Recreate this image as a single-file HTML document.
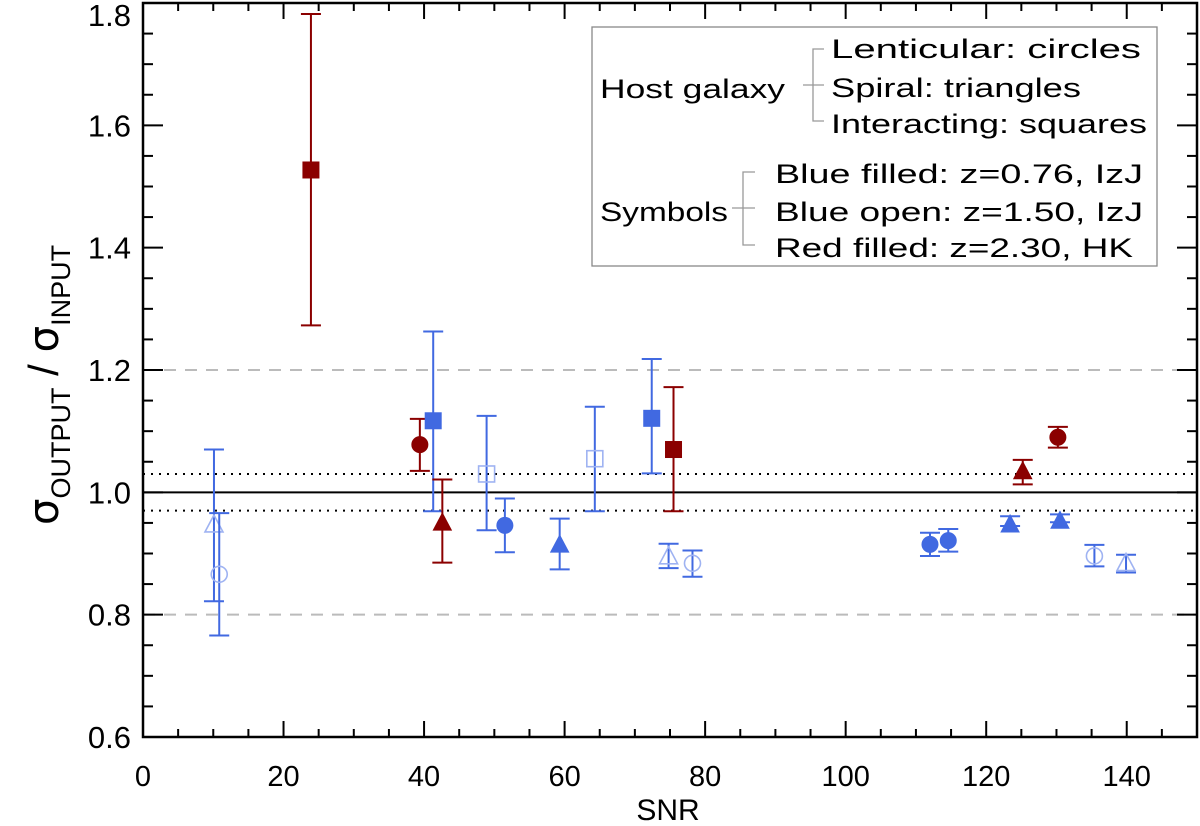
<!DOCTYPE html>
<html><head><meta charset="utf-8"><style>
html,body{margin:0;padding:0;background:#fff;}
svg{display:block;font-family:"Liberation Sans",sans-serif;}
</style></head><body>
<svg id="chart" width="1200" height="826" viewBox="0 0 1200 826">
<g id="grid"></g>
<g id="axes"></g>
<g id="marks"></g>
<g id="legend">
  <rect x="592" y="27" width="565" height="239" fill="#fff" stroke="#888" stroke-width="1.3"/>
  <g font-size="27" fill="#000">
    <text x="600" y="98" textLength="185" lengthAdjust="spacingAndGlyphs">Host galaxy</text>
    <text x="831" y="58" textLength="310" lengthAdjust="spacingAndGlyphs">Lenticular: circles</text>
    <text x="831" y="97" textLength="250" lengthAdjust="spacingAndGlyphs">Spiral: triangles</text>
    <text x="831" y="133" textLength="316" lengthAdjust="spacingAndGlyphs">Interacting: squares</text>
    <text x="600" y="221" textLength="128" lengthAdjust="spacingAndGlyphs">Symbols</text>
    <text x="775" y="183" textLength="368" lengthAdjust="spacingAndGlyphs">Blue filled: z=0.76, IzJ</text>
    <text x="775" y="221" textLength="368" lengthAdjust="spacingAndGlyphs">Blue open: z=1.50, IzJ</text>
    <text x="775" y="257" textLength="358" lengthAdjust="spacingAndGlyphs">Red filled: z=2.30, HK</text>
  </g>
  <g stroke="#999" stroke-width="1.3" fill="none">
    <path d="M824 49 H813 V121 H824 M803 85 H824"/>
    <path d="M755 172 H743 V245 H755 M732 208 H755"/>
  </g>
</g>
<text x="668" y="820" font-size="30" text-anchor="middle">SNR</text>
<g transform="translate(58,385) rotate(-90)">
  <text x="0" y="0" font-size="42" text-anchor="middle"><tspan font-family="DejaVu Sans, sans-serif">σ</tspan><tspan font-size="27" dy="12">OUTPUT</tspan><tspan dy="-12" font-size="42">  /  </tspan><tspan font-family="DejaVu Sans, sans-serif">σ</tspan><tspan font-size="27" dy="12">INPUT</tspan></text>
</g>
</svg>
<script>
const xTicks = [0,20,40,60,80,100,120,140];
const yTicks = [0.6,0.8,1.0,1.2,1.4,1.6,1.8];
const yTickLabels = ["0.6","0.8","1.0","1.2","1.4","1.6","1.8"];
// points: snr, ratio, error top, error bottom
const snr   = [10.1, 10.85, 23.9, 39.4, 41.3, 42.6, 48.9, 51.5, 59.3, 64.3, 72.4, 75.5, 74.8, 78.2, 112.0, 114.6, 123.4, 125.2, 130.2, 130.5, 135.4, 139.9];
const ratio = [0.945, 0.866, 1.527, 1.078, 1.117, 0.948, 1.030, 0.946, 0.912, 1.055, 1.121, 1.070, 0.893, 0.884, 0.915, 0.921, 0.945, 1.032, 1.090, 0.951, 0.896, 0.882];
const errHi = [1.070, 0.966, 1.782, 1.120, 1.263, 1.021, 1.125, 0.990, 0.957, 1.140, 1.218, 1.172, 0.916, 0.905, 0.934, 0.940, 0.961, 1.053, 1.107, 0.964, 0.914, 0.898];
const errLo = [0.822, 0.766, 1.273, 1.035, 0.969, 0.885, 0.938, 0.902, 0.874, 0.969, 1.031, 0.969, 0.876, 0.862, 0.896, 0.903, 0.945, 1.013, 1.073, 0.951, 0.879, 0.869];
const shape = ["tri","circ","sq","circ","sq","tri","sq","circ","tri","sq","sq","sq","tri","circ","circ","circ","tri","tri","circ","tri","circ","tri"];
const group = ["open","open","red","red","blue","red","open","blue","blue","open","blue","red","open","open","blue","blue","blue","red","red","blue","open","open"];

const L=143,R=1197,T=3,B=737, XMIN=0,XMAX=150,YMIN=0.6,YMAX=1.8;
const sx=v=>L+(v-XMIN)/(XMAX-XMIN)*(R-L);
const sy=v=>B-(v-YMIN)/(YMAX-YMIN)*(B-T);
const NS="http://www.w3.org/2000/svg";
function mk(tag,attrs,parent){const e=document.createElementNS(NS,tag);for(const k in attrs)e.setAttribute(k,attrs[k]);parent.appendChild(e);return e;}
const grid=document.getElementById('grid'),axes=document.getElementById('axes'),marks=document.getElementById('marks');

let e;
e=mk('line',{x1:L,x2:R,y1:sy(1.2),y2:sy(1.2),stroke:'#bbb','stroke-width':2,'stroke-dasharray':'12,9'},grid);


e=mk('line',{x1:L,x2:R,y1:sy(0.8),y2:sy(0.8),stroke:'#bbb','stroke-width':2,'stroke-dasharray':'12,9'},grid);


e=mk('line',{x1:L,x2:R,y1:sy(1.03),y2:sy(1.03),stroke:'#000','stroke-width':2,'stroke-dasharray':'2,6'},grid);


e=mk('line',{x1:L,x2:R,y1:sy(0.97),y2:sy(0.97),stroke:'#000','stroke-width':2,'stroke-dasharray':'2,6'},grid);


e=mk('line',{x1:L,x2:R,y1:sy(1.0),y2:sy(1.0),stroke:'#000','stroke-width':2},grid);



e=mk('rect',{x:L,y:T,width:R-L,height:B-T,fill:'none',stroke:'#000','stroke-width':2.5},axes);


for(let v=0;v<=150;v+=5){
  const maj=v%20===0, len=maj?16:8, x=sx(v);
  e=mk('line',{x1:x,x2:x,y1:B,y2:B-len,stroke:'#000','stroke-width':2},axes);
  
  
  e=mk('line',{x1:x,x2:x,y1:T,y2:T+len,stroke:'#000','stroke-width':2},axes);
  
  
}
xTicks.forEach(v=>{
  e=mk('text',{x:sx(v),y:786,'font-size':29,'text-anchor':'middle'},axes);
  e.textContent=String(v);
  
  
});
for(let i=0;i<=24;i++){
  const v=0.6+i*0.05, maj=i%4===0, len=maj?20:10, y=sy(v);
  e=mk('line',{x1:L,x2:L+len,y1:y,y2:y,stroke:'#000','stroke-width':2},axes);
  
  
  e=mk('line',{x1:R,x2:R-len,y1:y,y2:y,stroke:'#000','stroke-width':2},axes);
  
  
}
yTicks.forEach((v,i)=>{
  e=mk('text',{x:131,y:Math.max(sy(v)+11,26),'font-size':31,'text-anchor':'end'},axes);
  e.textContent=yTickLabels[i];
  
  
});

const COL={blue:'#4169e1',open:'#4169e1',red:'#8b0000'};
snr.forEach((s,i)=>{
  const g=mk('g',{},marks);
  
  
  const c=COL[group[i]], x=sx(s), y=sy(ratio[i]), yh=sy(errHi[i]), yl=sy(errLo[i]);
  const bar=mk('path',{d:`M${x} ${yh} V${yl} M${x-10} ${yh} H${x+10} M${x-10} ${yl} H${x+10}`,stroke:c,'stroke-width':2,fill:'none'},g);
  
  
  const open=group[i]==='open';
  const st=open?{fill:'none',stroke:'#9fb3f2','stroke-width':1.6}:{fill:c,stroke:c,'stroke-width':1};
  let m;
  if(shape[i]==='circ') m=mk('circle',Object.assign({cx:x,cy:y,r:8},st),g);
  else if(shape[i]==='sq') m=mk('rect',Object.assign({x:x-8,y:y-8,width:16,height:16},st),g);
  else m=mk('polygon',Object.assign({points:`${x},${y-11} ${x+9},${y+6} ${x-9},${y+6}`},st),g);
  
  
});
</script>
</body></html>
